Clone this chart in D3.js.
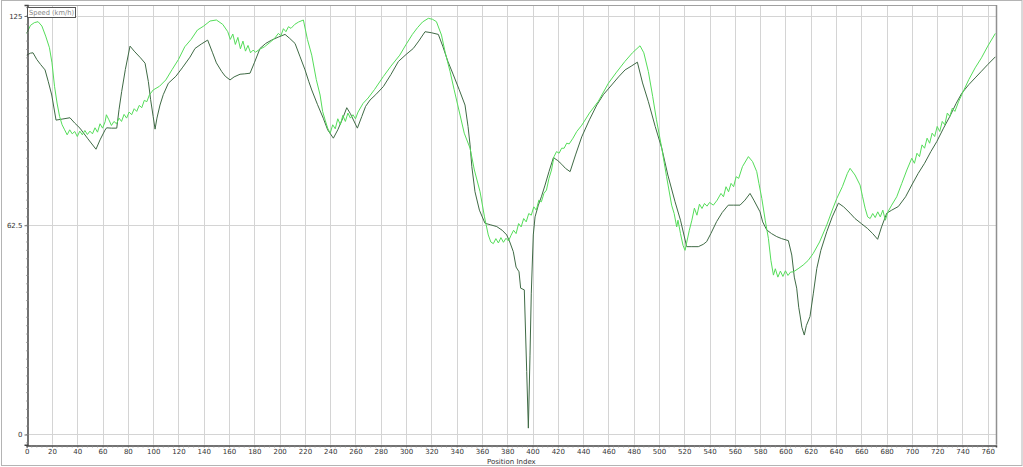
<!DOCTYPE html>
<html><head><meta charset="utf-8">
<script src="https://cdn.jsdelivr.net/npm/d3@7"></script>
<style>body{margin:0;background:#fff;}svg{display:block;}</style>
</head><body><div id="chart"></div>
<script>
const xTicks = [0,20,40,60,80,100,120,140,160,180,200,220,240,260,280,300,320,340,360,380,400,420,440,460,480,500,520,540,560,580,600,620,640,660,680,700,720,740,760];
const yTicks = [0, 62.5, 125];
const seriesName = "Speed (km/h)";
const xTitle = "Position Index";

// light green (noisy) series
const lightPos = [0,3,6,9,12,15,18,20,22,24,26,28,30,32,34,36,38,40,42,44,46,48,50,52,54,56,58,60,62,63,65,67,69,71,73,75,77,79,81,83,85,87,89,91,93,95,97,100,105,110,115,120,125,130,135,140,145,150,155,159,161,163,165,167,169,171,173,175,177,179,181,184,188,192,196,199,201,203,205,207,209,212,215,218.8,222,225.4,229,232,234,236,238,240,242,244,246,248,250,252,254,256,258,260,262,266,270,275,282,288,295,300,305,309,313,317.6,321,324,328,331,334.8,338,342.7,346,350.6,354,358.5,362,365,367,369,371,373,375,377,379,381,383,385,387,389,391,393,395,397,399,401,403,405,407,409,411,413,415,417,419,421,423,425,427,429,432,435,439,445,452,460,466,473,479,485,488,491.6,495,498,502.2,506,510,512,514,515,517,519,520.6,522,524,526,528,530,532,534,536,538,540,543,546,549,551,553,555,557,559,561,563,566,570.7,574,577.3,579,581.3,584,586.5,588.5,590.5,592,594,596,598,600,602,604,606.3,610,614,618,622,627,632.7,637,640.6,645,649,651.1,655,659,661,663,665,667,669,671,673,675,677,679,681,684,688,692,696,699.9,702,704,706,708,710,712,714,716,718,720,722,724,726,728,730,732,734,737,739.4,745,750,755,760,766];
const lightVal = [119.8,122.2,123,123.3,122,119,115.5,111,104,99,95,92.5,91,89.5,91,89.8,90.5,89,90.6,89.5,90.8,89.6,90.6,89.8,91.6,90.3,92.8,91.5,93.4,95.5,94,92.3,93.5,92.8,94.5,93.5,95.6,94.5,96.3,95.5,97.3,96.5,98.3,97.6,99.8,99.4,101.4,102.9,104,105.9,109,112,115.8,118,120.8,122,123.5,123.8,122.5,120.3,118,119.6,116.5,118.6,115.2,117.5,114.5,116.2,114,114.8,114.2,115,115.8,117,118.3,119.8,119.1,121.2,120.3,121.8,121.3,122.5,123.2,123.8,118,113.3,106,101.4,96.5,93.9,91.5,90,92.5,91.3,94.3,92.5,95.3,93.5,96,94.5,95.5,94.3,96.3,98.9,100.5,103,106.9,110,113.3,116.5,119.5,121.5,123.2,124.3,124,123.3,119.3,114,108.4,103,95.4,90,85.5,79,72.5,65,59.6,57.5,57,58.5,57.2,58.8,57.4,58.6,57.8,59.5,61,60,63,62,64.5,63.5,66,65.5,68,67,70,69.5,72,73,76.5,79,83,84.5,84,85.5,85.5,87,86.8,88.5,90.5,92.4,96,99.5,104.9,108,111.4,114,116.1,114,108.4,101,94,85.5,77,68.5,66,62,64,60,56.5,55,57.5,61,64,67.6,65.5,68.8,67.5,69,68.2,69.3,68.5,70,72,71,74,72.5,75,74,77,76.5,80,83,81.5,78.5,75,70.5,64,58.6,52,47.6,49.5,47,48.8,47.2,48.9,47.5,48.5,48.6,49.5,50.6,52,54.1,57.5,62.6,67,70.5,74,78,79.5,77.5,74.5,71,67.6,65,64.5,66,64.8,66.5,65,67,64,66.5,68.5,71,75,79,82.5,81,84,83,86.5,85.5,88.5,87,90,89,92,90.5,93.5,92.5,96,95,97.5,96.5,99.5,101.5,106,109.5,112.5,116,119.8];

// dark series
const darkPos = [0,3,5,8,11,14.5,17,19.8,23.2,28,34.2,38,42.1,48,54.8,58,61.9,63.2,67,71.2,73,75.1,78,81.7,85,90,93.6,96.2,98,100,101.5,103,105.4,108,112,118,123,129.1,133.1,138,143.1,147,150,154.2,157,160.8,164,168.7,172,176.6,180,184.5,189,193.7,199,204.3,208,212.2,216,220.1,223,225.4,230,234.6,238,242.5,246,250,253.1,256,261.5,265,268,271.5,276,282,288,293.9,300,305.7,310,315,320,325.5,329,333,337.4,342,346.6,349,350.6,352,354.5,358,362.4,367,371.7,376,379.6,382,384.8,387,389.3,390.6,393.5,395.4,396.7,398,399,400.6,402,404.6,407,409.9,413,416.5,420,423.1,426,429.7,434,438.9,445,450.8,456,462.6,468,473.2,478,482.9,487,491.6,497,502.2,507,512.7,517,521.9,526,531.1,535,537.7,541,545.6,550,554.8,559,564.1,568,572,575,579.9,582,585.2,589,593.1,597,602.3,605,607,608.9,610.5,611.5,613,614.9,616.5,619.4,622,624.8,628,632.7,637,641.9,646,651.1,655,660,665,669,672.9,676,680.1,684,689.3,695,699.9,705,710,715,719.7,725,730,735,739.4,745,750,755,760,766];
const darkVal = [113.3,113.9,114,112,110.5,108.9,105.5,101.4,93.9,94.2,94.6,93,91.5,88.5,85.2,88,90.9,91.6,91.5,91.5,97,102.4,109,116,114.5,112.5,110.9,105.4,100,95,91.2,94.5,98.4,101.5,104.9,107,109.5,112.7,115.3,116.6,117.8,114,111,108.4,107,105.9,106.8,107.6,107.7,107.9,111,115.3,116.8,117.8,118.7,119.5,118.3,116.8,113,108.9,105.5,102.9,98.5,94.4,91,88.5,91,94.5,97.6,95.8,91.5,95,98,99.9,101.5,103.9,107.5,111.4,113.5,115.3,117.5,120.3,120,119.5,116,111.5,107.4,103,98.4,92,86.5,80,72.5,67,63.1,62.6,62.1,61,59.6,57.5,54.6,50,48.6,43.7,43.2,18.8,1.9,23.7,42,59.6,65,68.5,71,74.5,78.5,82.7,81.8,80.7,79.5,78.5,83.5,88.9,94,98.4,101.5,104.4,106.8,108.9,110,111.2,105,99.4,92,85.5,77.5,69.5,64,56.1,56.1,56.1,56.8,57.6,60,63.6,66.3,68.5,68.5,68.5,70,72,70,66.5,63.5,61.1,60,59.1,58.5,57.9,53.6,47,43.7,38,35.7,32,29.7,32.5,35.2,42,49.6,55,60.6,65,69.1,68,66.1,64.5,63,61.5,60,58.3,62,66.1,67,68.1,71,74.5,78,81,84.5,87.5,91.5,95,98.9,101.9,104.5,106.5,108.5,110.5,112.8];

const W = 1023, H = 467;
const FONT = "'DejaVu Sans', Verdana, sans-serif";
const svg = d3.select("#chart").append("svg").attr("width", W).attr("height", H)
  .style("font-family", FONT);

const L = 26.7, R = 996, T = 5, B = 444.7;
const x = d3.scaleLinear().domain([0, 766.5]).range([L, R]);
const y = d3.scaleLinear().domain([-3.05, 128.28]).range([B, T]);

// outer frame
svg.append("rect").attr("x", 1.5).attr("y", 0.5).attr("width", W - 2.5).attr("height", H - 2)
  .attr("fill", "none").attr("stroke", "#b4b4b4").attr("stroke-width", 1);

// vertical grid
svg.append("g").selectAll("line").data(xTicks.filter(d => d > 0)).join("line")
  .attr("x1", d => Math.round(x(d)) + 0.5).attr("x2", d => Math.round(x(d)) + 0.5)
  .attr("y1", T).attr("y2", B).attr("stroke", "#d4d4d4").attr("stroke-width", 1);
// horizontal grid
svg.append("g").selectAll("line").data(yTicks).join("line")
  .attr("x1", L).attr("x2", R)
  .attr("y1", d => Math.round(y(d)) + 0.5).attr("y2", d => Math.round(y(d)) + 0.5)
  .attr("stroke", "#d4d4d4").attr("stroke-width", 1);

// top and right borders
svg.append("line").attr("x1", L).attr("x2", R + 0.5).attr("y1", T + 0.5).attr("y2", T + 0.5)
  .attr("stroke", "#a0a0a0");
svg.append("line").attr("x1", R + 0.5).attr("x2", R + 0.5).attr("y1", T).attr("y2", B)
  .attr("stroke", "#909090").attr("stroke-width", 1.5);

// lines
const lineGen = d3.line().x(d => x(d[0])).y(d => y(d[1]));
const darkData = darkPos.map((p, i) => [p, darkVal[i]]);
const lightData = lightPos.map((p, i) => [p, lightVal[i]]);
svg.append("path").datum(darkData).attr("d", lineGen).attr("fill", "none")
  .attr("stroke", "#3f6a45").attr("stroke-width", 1);
svg.append("path").datum(lightData).attr("d", lineGen).attr("fill", "none")
  .attr("stroke", "#55dd5a").attr("stroke-width", 1);

// x axis
const xAxis = d3.axisBottom(x).tickValues(xTicks).tickSize(2).tickPadding(2);
const gx = svg.append("g").attr("transform", `translate(0,${Math.round(B) + 0.5})`).call(xAxis);
gx.select(".domain").attr("stroke", "#444").attr("stroke-width", 1.5);
gx.selectAll(".tick line").attr("stroke", "#666");
gx.selectAll("text").attr("font-size", "7px").attr("fill", "#333").attr("font-family", FONT);
// minor x ticks
const minorX = d3.range(0, 767, 4).filter(d => d % 20 !== 0);
svg.append("g").selectAll("line").data(minorX).join("line")
  .attr("x1", d => x(d)).attr("x2", d => x(d))
  .attr("y1", Math.round(B) + 0.5).attr("y2", Math.round(B) + 2.5)
  .attr("stroke", "#888").attr("stroke-width", 0.8);

// y axis
const yAxis = d3.axisLeft(y).tickValues(yTicks).tickSize(3).tickPadding(2)
  .tickFormat(d => d === 62.5 ? "62.5" : d3.format("d")(d));
const gy = svg.append("g").attr("transform", `translate(${Math.round(L) + 0.5},0)`).call(yAxis);
gy.select(".domain").attr("stroke", "#444").attr("stroke-width", 1.5);
gy.selectAll(".tick line").attr("stroke", "#666");
gy.selectAll("text").attr("font-size", "7px").attr("fill", "#333").attr("font-family", FONT);
const minorY = d3.range(-2.5, 128, 2.5);
svg.append("g").selectAll("line").data(minorY).join("line")
  .attr("x1", Math.round(L) - 1).attr("x2", Math.round(L) + 2)
  .attr("y1", d => y(d)).attr("y2", d => y(d))
  .attr("stroke", "#888").attr("stroke-width", 0.7);

// x title
svg.append("text").attr("x", (L + R) / 2).attr("y", 464).attr("text-anchor", "middle")
  .attr("font-size", "7px").attr("fill", "#333").text(xTitle);

// legend box
const lg = svg.append("g");
lg.append("rect").attr("x", 27.5).attr("y", 7.5).attr("width", 48).attr("height", 10)
  .attr("fill", "#fff").attr("stroke", "#555").attr("stroke-width", 1);
lg.append("text").attr("x", 29).attr("y", 15).attr("font-size", "7px").attr("fill", "#888")
  .attr("textLength", 45).attr("lengthAdjust", "spacingAndGlyphs")
  .text(seriesName);
</script></body></html>
